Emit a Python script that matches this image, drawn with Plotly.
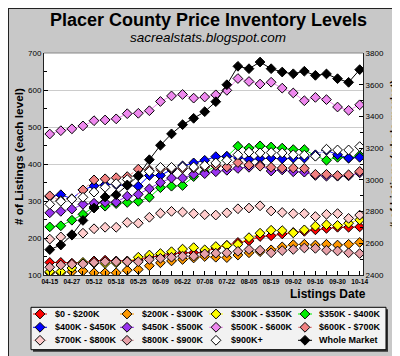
import plotly.graph_objects as go

# ---------------- data ----------------
dates = ["04-15", "04-21", "04-27", "05-05", "05-12", "05-15", "05-18", "05-21",
         "05-25", "06-02", "06-09", "06-15", "06-22", "07-01", "07-08", "07-15",
         "07-22", "07-29", "08-05", "08-12", "08-19", "08-26", "09-02", "09-09",
         "09-16", "09-23", "09-30", "10-07", "10-14"]
tick_labels = [d if i % 2 == 0 else "" for i, d in enumerate(dates)]

p0_200 = [134, 134, 132, 133, 138, 140, 138, 138, 140, 149, 151, 157, 160, 160, 162,
          173, 180, 188, 192, 204, 206, 211, 215, 218, 222, 226, 229, 229, 230]
p200_300 = [106, 106, 109, 111, 106, 106, 106, 113, 115, 125, 133, 138, 142, 146, 150,
            148, 147, 154, 160, 163, 168, 176, 182, 183, 181, 183, 181, 183, 188]
p300_350 = [109, 109, 119, 134, 132, 131, 133, 136, 148, 154, 158, 163, 170, 174, 168,
            177, 180, 183, 201, 213, 221, 220, 214, 222, 232, 236, 234, 240, 249]
p350_400 = [230, 233, 248, 264, 284, 286, 293, 296, 299, 310, 336, 340, 342, 366, 377,
            395, 420, 448, 443, 449, 446, 443, 439, 439, 422, 410, 418, 416, 423]
p400_450 = [312, 317, 306, 330, 341, 344, 344, 342, 340, 369, 369, 385, 395, 403, 410,
            420, 421, 418, 412, 415, 416, 414, 416, 416, 425, 437, 425, 416, 418]
p450_500 = [268, 272, 278, 291, 294, 296, 297, 313, 318, 333, 350, 362, 362, 372, 374,
            379, 383, 388, 391, 397, 381, 384, 379, 378, 369, 367, 367, 368, 376]
p500_600 = [481, 490, 495, 503, 517, 519, 522, 536, 537, 544, 569, 584, 588, 578, 581,
            587, 599, 631, 623, 616, 621, 605, 592, 571, 580, 574, 554, 545, 560]
p600_700 = [314, 301, 306, 330, 357, 360, 363, 366, 386, 384, 386, 388, 388, 389, 392,
            396, 392, 404, 397, 394, 391, 389, 389, 388, 372, 372, 369, 371, 380]
p700_800 = [197, 203, 209, 213, 225, 229, 229, 242, 240, 256, 267, 272, 270, 266, 263,
            262, 268, 279, 281, 287, 273, 269, 266, 266, 258, 264, 266, 253, 262]
p800_900 = [121, 127, 129, 130, 134, 136, 136, 136, 136, 142, 145, 148, 151, 151, 157,
            159, 160, 164, 169, 167, 160, 166, 169, 173, 172, 167, 165, 160, 158]
p900_up = [291, 299, 305, 310, 324, 337, 347, 358, 368, 380, 391, 391, 392, 392, 396,
           403, 410, 425, 432, 430, 431, 430, 425, 424, 421, 440, 438, 438, 447]
whole_market = [2560, 2589, 2652, 2744, 2822, 2892, 2906, 2968, 3025, 3127, 3218, 3290,
                3348, 3388, 3430, 3493, 3600, 3716, 3701, 3743, 3701, 3680, 3669, 3685,
                3659, 3668, 3638, 3615, 3695]

series_names = ["$0 - $200K", "$200K - $300K", "$300K - $350K", "$350K - $400K",
                "$400K - $450K", "$450K - $500K", "$500K - $600K", "$600K - $700K",
                "$700K - $800K", "$800K - $900K", "$900K+", "Whole Market"]
series_values = [p0_200, p200_300, p300_350, p350_400, p400_450, p450_500,
                 p500_600, p600_700, p700_800, p800_900, p900_up, whole_market]

# ---------------- styles ----------------
colors = ["#FF0000", "#FF9900", "#FFFF00", "#00EE00", "#0000FF", "#9933EE",
          "#EE88EE", "#F08080", "#FFCCCC", "#E6A0A8", "#FFFFFF", "#000000"]
dashes = ["solid", "dot", "dot", "solid", "solid", "solid",
          "solid", "dot", "dot", "dot", "solid", "solid"]

W, H = 400, 356
FONT = "Liberation Sans, Arial, sans-serif"


def fx(x):
    return x / W


def fy(y):
    return 1 - y / H


fig = go.Figure()

# main series
for name, vals, col, dsh in zip(series_names, series_values, colors, dashes):
    on_right = name == "Whole Market"
    fig.add_trace(go.Scatter(
        x=dates, y=vals, name=name, mode="lines+markers",
        line=dict(color=col, width=1, dash=dsh),
        marker=dict(symbol="diamond", size=7.5, color=col,
                    line=dict(color="black", width=1)),
        xaxis="x", yaxis="y2" if on_right else "y",
        showlegend=False, hoverinfo="skip"))

# hand-made legend (4 columns x 3 rows) in its own small axes, 1 unit = 1 px
sym_x = [9, 96, 185, 274]
txt_x = [22, 109, 198, 286]
row_y = [35.7, 22.4, 9.4]
annotations = []
for k, (name, col, dsh) in enumerate(zip(series_names, colors, dashes)):
    r, c = divmod(k, 4)
    fig.add_trace(go.Scatter(
        x=[sym_x[c] - 7, sym_x[c], sym_x[c] + 7], y=[row_y[r]] * 3,
        mode="lines+markers",
        line=dict(color=col if col != "#FFFFFF" else "rgba(0,0,0,0)", width=1, dash=dsh),
        marker=dict(symbol="diamond", size=7.5, color=col, opacity=[0, 1, 0],
                    line=dict(color="black", width=1)),
        xaxis="x3", yaxis="y3", showlegend=False, hoverinfo="skip"))
    annotations.append(dict(
        x=txt_x[c], y=row_y[r], xref="x3", yref="y3", text=name, showarrow=False,
        xanchor="left", yanchor="middle",
        font=dict(family=FONT, size=9, color="black", weight="bold")))

# titles
annotations += [
    dict(x=0.5, y=fy(11.5), xref="paper", yref="paper", showarrow=False,
         text="Placer County Price Inventory Levels", xanchor="center", yanchor="middle",
         font=dict(family=FONT, size=18, color="black", weight="bold")),
    dict(x=0.5, y=fy(30), xref="paper", yref="paper", showarrow=False,
         text="<i>sacrealstats.blogspot.com</i>", xanchor="center", yanchor="middle",
         font=dict(family=FONT, size=13.5, color="black")),
    dict(x=fx(11), y=fy(149), xref="paper", yref="paper", showarrow=False,
         text="# of Listings (each level)", textangle=-90,
         xanchor="center", yanchor="middle",
         font=dict(family=FONT, size=11.8, color="black", weight="bold")),
    dict(x=fx(386), y=fy(146), xref="paper", yref="paper", showarrow=False,
         text="# of Listings (whole market)", textangle=-90,
         xanchor="center", yanchor="middle",
         font=dict(family=FONT, size=11.2, color="black", weight="bold")),
    dict(x=fx(320), y=fy(286), xref="paper", yref="paper", showarrow=False,
         text="Listings Date", xanchor="center", yanchor="middle",
         font=dict(family=FONT, size=12, color="black", weight="bold")),
]

shapes = [
    # plot top border
    dict(type="line", xref="paper", yref="paper", x0=fx(36), x1=fx(355),
         y0=fy(45), y1=fy(45), line=dict(color="#888888", width=1), layer="above"),
    # legend shadow + box
    dict(type="rect", xref="paper", yref="paper", x0=fx(25), x1=fx(380),
         y0=fy(343.7), y1=fy(301.3), fillcolor="#333333", line=dict(width=0),
         layer="below"),
    dict(type="rect", xref="paper", yref="paper", x0=fx(23), x1=fx(378),
         y0=fy(341.7), y1=fy(299.3), fillcolor="#F2F2F2",
         line=dict(color="black", width=1), layer="below"),
    # figure border
    dict(type="rect", xref="paper", yref="paper", x0=0, x1=1, y0=0, y1=1,
         line=dict(color="#222222", width=2), layer="above"),
]

tickfont = dict(family=FONT, size=8, color="black")
fig.update_layout(
    width=W, height=H,
    margin=dict(l=0, r=0, t=0, b=0, pad=0),
    paper_bgcolor="#C8C8C8", plot_bgcolor="white",
    showlegend=False,
    annotations=annotations, shapes=shapes,
    xaxis=dict(domain=[fx(36), fx(355)], type="category", range=[-0.52, 28.3],
               tickmode="array", tickvals=dates, ticktext=tick_labels, tickangle=0,
               ticks="inside", ticklen=4, tickcolor="black",
               showline=True, linecolor="#222222", linewidth=1,
               showgrid=False, zeroline=False, automargin=False,
               tickfont=dict(family=FONT, size=6.5, color="black", weight="bold"),
               anchor="y"),
    yaxis=dict(domain=[fy(267), fy(45)], range=[100, 700], dtick=100,
               ticks="inside", ticklen=4, tickcolor="black",
               minor=dict(ticks="inside", ticklen=3, dtick=50, tickcolor="black",
                          showgrid=False),
               showline=True, linecolor="#222222", linewidth=1,
               showgrid=True, gridcolor="#CCCCCC", gridwidth=1,
               zeroline=False, automargin=False, tickfont=tickfont, anchor="x"),
    yaxis2=dict(overlaying="y", side="right", range=[2400, 3800], dtick=200,
                ticks="inside", ticklen=4, tickcolor="black",
                minor=dict(ticks="inside", ticklen=3, dtick=100, tickcolor="black",
                           showgrid=False),
                showline=True, linecolor="#222222", linewidth=1,
                showgrid=False, zeroline=False, automargin=False,
                tickfont=tickfont, anchor="x"),
    xaxis3=dict(domain=[fx(23), fx(378)], range=[0, 355], visible=False,
                anchor="y3", fixedrange=True),
    yaxis3=dict(domain=[fy(341.7), fy(299.3)], range=[0, 42.4], visible=False,
                anchor="x3", fixedrange=True),
)

fig.write_html("out.html")
